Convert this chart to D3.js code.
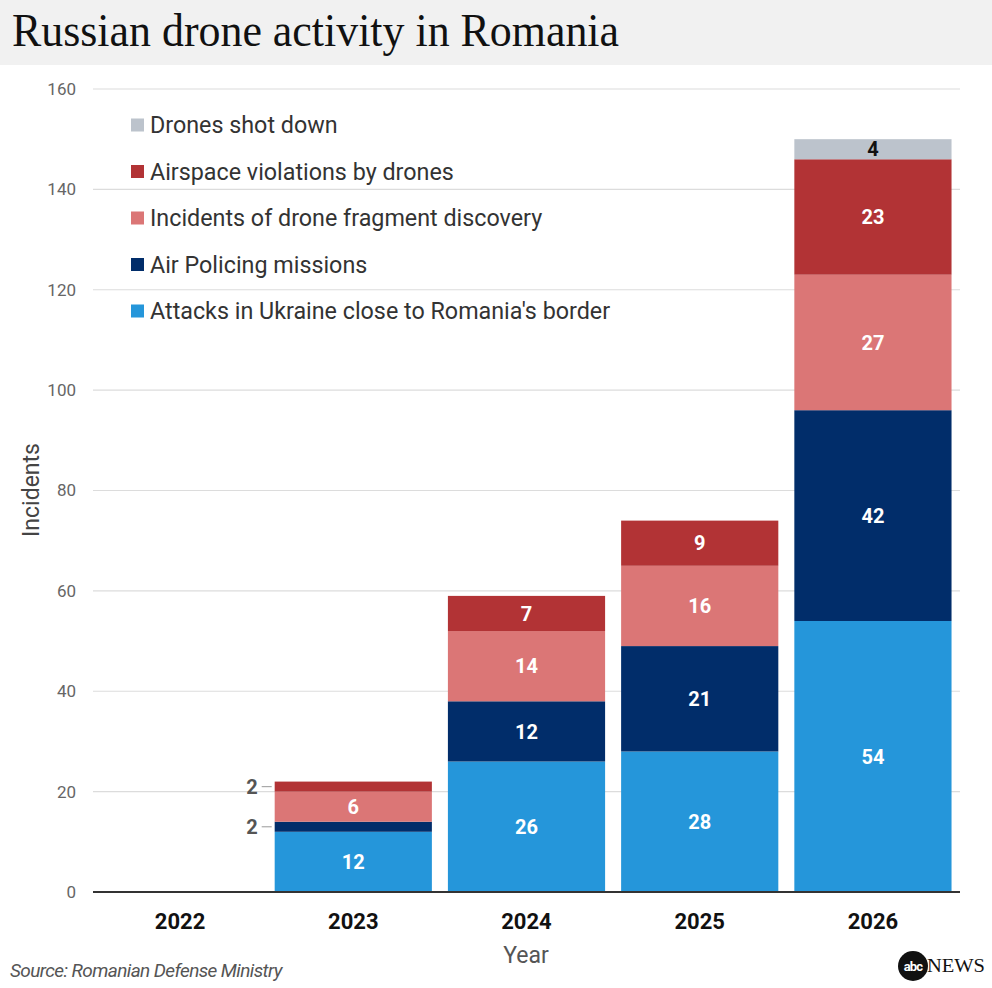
<!DOCTYPE html>
<html>
<head>
<meta charset="utf-8">
<script src="https://cdn.jsdelivr.net/npm/d3@7"></script>
<style>
  body { margin: 0; background: #fff; }
  svg { display: block; font-family: Roboto, "Liberation Sans", Arial, sans-serif; }
</style>
</head>
<body>
<div id="chart"></div>
<script>
const years = ["2022", "2023", "2024", "2025", "2026"];
const attacks = [0, 12, 26, 28, 54];
const airPolicing = [0, 2, 12, 21, 42];
const fragments = [0, 6, 14, 16, 27];
const violations = [0, 2, 7, 9, 23];
const shotDown = [0, 0, 0, 0, 4];
const yTicks = [0, 20, 40, 60, 80, 100, 120, 140, 160];

const seriesNames = [
  "Attacks in Ukraine close to Romania's border",
  "Air Policing missions",
  "Incidents of drone fragment discovery",
  "Airspace violations by drones",
  "Drones shot down"
];
const seriesValues = [attacks, airPolicing, fragments, violations, shotDown];
const colors = ["#2596da", "#012d6a", "#db7676", "#b23335", "#bcc3cc"];

const width = 992, height = 988;
const svg = d3.select("#chart").append("svg")
  .attr("width", width)
  .attr("height", height);

// header
svg.append("rect")
  .attr("x", 0).attr("y", 0)
  .attr("width", width).attr("height", 65)
  .attr("fill", "#f1f1f1");

svg.append("text")
  .attr("x", 12)
  .attr("y", 46)
  .attr("font-family", "'Liberation Serif', 'DejaVu Serif', serif")
  .attr("font-size", 46)
  .attr("textLength", 607)
  .attr("lengthAdjust", "spacingAndGlyphs")
  .attr("fill", "#111")
  .text("Russian drone activity in Romania");

// scales
const x = d3.scaleBand()
  .domain(years)
  .range([93.5, 959.5])
  .paddingInner(0.0925)
  .paddingOuter(0.046);

const y = d3.scaleLinear()
  .domain([0, 160])
  .range([892, 89]);

// grid
const grid = svg.append("g");
grid.selectAll("line")
  .data(yTicks.filter(d => d > 0))
  .enter().append("line")
  .attr("x1", 93).attr("x2", 960)
  .attr("y1", d => y(d)).attr("y2", d => y(d))
  .attr("stroke", "#dcdcdc")
  .attr("stroke-width", 1.2);

// y tick labels
svg.append("g").selectAll("text")
  .data(yTicks)
  .enter().append("text")
  .attr("x", 76)
  .attr("y", d => y(d))
  .attr("dy", "0.35em")
  .attr("text-anchor", "end")
  .attr("font-size", 17)
  .attr("fill", "#666")
  .text(d => d);

// stacked data
const table = years.map((yr, i) => {
  const row = { year: yr };
  seriesNames.forEach((s, j) => { row[s] = seriesValues[j][i]; });
  return row;
});
const stacked = d3.stack().keys(seriesNames)(table);

const layers = svg.append("g").selectAll("g")
  .data(stacked)
  .enter().append("g")
  .attr("fill", (d, i) => colors[i]);

layers.selectAll("rect")
  .data(d => d)
  .enter().append("rect")
  .attr("x", d => x(d.data.year))
  .attr("y", d => y(d[1]))
  .attr("width", x.bandwidth())
  .attr("height", d => y(d[0]) - y(d[1]));

// segment labels
stacked.forEach((layer, li) => {
  layer.forEach(d => {
    const v = d[1] - d[0];
    if (v <= 0) return;
    const cy = (y(d[0]) + y(d[1])) / 2;
    if (v >= 4) {
      svg.append("text")
        .attr("x", x(d.data.year) + x.bandwidth() / 2)
        .attr("y", cy)
        .attr("dy", "0.36em")
        .attr("text-anchor", "middle")
        .attr("font-size", 20)
        .attr("font-weight", 700)
        .attr("fill", li === 4 ? "#111" : "#fff")
        .text(v);
    } else {
      const bx = x(d.data.year);
      svg.append("line")
        .attr("x1", bx - 13).attr("x2", bx - 3)
        .attr("y1", cy).attr("y2", cy)
        .attr("stroke", "#aaa")
        .attr("stroke-width", 1.2);
      svg.append("text")
        .attr("x", bx - 17)
        .attr("y", cy)
        .attr("dy", "0.36em")
        .attr("text-anchor", "end")
        .attr("font-size", 20)
        .attr("font-weight", 700)
        .attr("fill", "#555")
        .text(v);
    }
  });
});

// baseline
svg.append("line")
  .attr("x1", 93).attr("x2", 960)
  .attr("y1", y(0)).attr("y2", y(0))
  .attr("stroke", "#333")
  .attr("stroke-width", 2);

// x axis labels
svg.append("g").selectAll("text")
  .data(years)
  .enter().append("text")
  .attr("x", d => x(d) + x.bandwidth() / 2)
  .attr("y", 921)
  .attr("dy", "0.35em")
  .attr("text-anchor", "middle")
  .attr("font-size", 22)
  .attr("font-weight", 700)
  .attr("fill", "#111")
  .text(d => d);

svg.append("text")
  .attr("x", 526)
  .attr("y", 955)
  .attr("dy", "0.35em")
  .attr("text-anchor", "middle")
  .attr("font-size", 23)
  .attr("fill", "#555")
  .text("Year");

svg.append("text")
  .attr("transform", "translate(31,490) rotate(-90)")
  .attr("dy", "0.35em")
  .attr("text-anchor", "middle")
  .attr("font-size", 23)
  .attr("fill", "#444")
  .text("Incidents");

// legend (top to bottom, reverse stack order)
const legendRows = seriesNames.map((s, i) => ({ name: s, color: colors[i] })).reverse();
const legend = svg.append("g").selectAll("g")
  .data(legendRows)
  .enter().append("g")
  .attr("transform", (d, i) => `translate(131, ${125 + i * 46.5})`);

legend.append("rect")
  .attr("x", 0).attr("y", -6.5)
  .attr("width", 13).attr("height", 13)
  .attr("fill", d => d.color);

legend.append("text")
  .attr("x", 19)
  .attr("y", 0)
  .attr("dy", "0.35em")
  .attr("font-size", 23.3)
  .attr("fill", "#333")
  .text(d => d.name);

// source
svg.append("text")
  .attr("x", 10)
  .attr("y", 970)
  .attr("dy", "0.35em")
  .attr("font-size", 19)
  .attr("font-style", "italic")
  .attr("letter-spacing", -0.6)
  .attr("fill", "#555")
  .text("Source: Romanian Defense Ministry");

// abc news mark
svg.append("circle")
  .attr("cx", 913).attr("cy", 966)
  .attr("r", 15)
  .attr("fill", "#111");
svg.append("text")
  .attr("x", 913).attr("y", 966)
  .attr("dy", "0.35em")
  .attr("text-anchor", "middle")
  .attr("font-size", 13)
  .attr("font-weight", 700)
  .attr("letter-spacing", -0.8)
  .attr("fill", "#fff")
  .text("abc");
svg.append("text")
  .attr("x", 927).attr("y", 972)
  .attr("font-family", "'Liberation Serif', serif")
  .attr("font-size", 18)
  .attr("textLength", 58)
  .attr("lengthAdjust", "spacingAndGlyphs")
  .attr("fill", "#111")
  .text("NEWS");
</script>
</body>
</html>
